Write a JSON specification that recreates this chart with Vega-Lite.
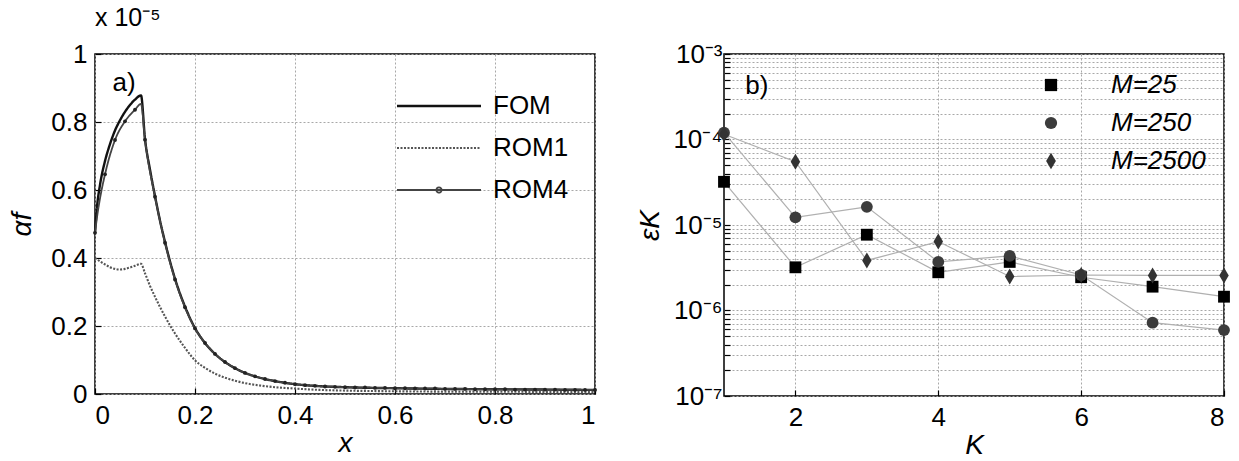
{
  "$schema": "https://vega.github.io/schema/vega-lite/v6.json",
  "padding": {"left": 8, "top": 5, "right": 0, "bottom": 0},
  "background": "#ffffff",
  "bounds": "flush",
  "spacing": 129,
  "config": {
    "font": "Liberation Sans",
    "view": {"stroke": "#000000", "strokeWidth": 1.5},
    "axis": {
      "domain": false,
      "tickColor": "#000000",
      "tickSize": -6,
      "tickWidth": 1.2,
      "labelFontSize": 26,
      "labelColor": "#000000",
      "labelFont": "Liberation Sans",
      "grid": true,
      "gridColor": "#a8a8a8",
      "gridDash": [2, 2],
      "gridWidth": 1,
      "titleFontSize": 28,
      "titleFontStyle": "italic",
      "titleFontWeight": "normal",
      "titleColor": "#000000",
      "titleFont": "Liberation Sans"
    },
    "legend": {"labelFont": "Liberation Sans", "labelColor": "#000000", "labelFontSize": 26}
  },
  "datasets": {
    "left": [
      {"s": "FOM", "x": 0, "y": 0.474}, {"s": "FOM", "x": 0.004, "y": 0.55}, {"s": "FOM", "x": 0.01, "y": 0.615},
      {"s": "FOM", "x": 0.02, "y": 0.685}, {"s": "FOM", "x": 0.03, "y": 0.735}, {"s": "FOM", "x": 0.04, "y": 0.775},
      {"s": "FOM", "x": 0.05, "y": 0.805}, {"s": "FOM", "x": 0.06, "y": 0.83}, {"s": "FOM", "x": 0.07, "y": 0.85},
      {"s": "FOM", "x": 0.08, "y": 0.866}, {"s": "FOM", "x": 0.092, "y": 0.878}, {"s": "FOM", "x": 0.1, "y": 0.75},
      {"s": "FOM", "x": 0.11, "y": 0.66}, {"s": "FOM", "x": 0.12, "y": 0.582}, {"s": "FOM", "x": 0.13, "y": 0.51},
      {"s": "FOM", "x": 0.14, "y": 0.447}, {"s": "FOM", "x": 0.15, "y": 0.39}, {"s": "FOM", "x": 0.16, "y": 0.339},
      {"s": "FOM", "x": 0.17, "y": 0.295}, {"s": "FOM", "x": 0.18, "y": 0.257}, {"s": "FOM", "x": 0.19, "y": 0.223},
      {"s": "FOM", "x": 0.2, "y": 0.194}, {"s": "FOM", "x": 0.22, "y": 0.15}, {"s": "FOM", "x": 0.24, "y": 0.118},
      {"s": "FOM", "x": 0.26, "y": 0.094}, {"s": "FOM", "x": 0.28, "y": 0.076}, {"s": "FOM", "x": 0.3, "y": 0.062},
      {"s": "FOM", "x": 0.32, "y": 0.052}, {"s": "FOM", "x": 0.34, "y": 0.044}, {"s": "FOM", "x": 0.36, "y": 0.038},
      {"s": "FOM", "x": 0.38, "y": 0.033}, {"s": "FOM", "x": 0.4, "y": 0.029}, {"s": "FOM", "x": 0.45, "y": 0.023},
      {"s": "FOM", "x": 0.5, "y": 0.02}, {"s": "FOM", "x": 0.6, "y": 0.017}, {"s": "FOM", "x": 0.7, "y": 0.015},
      {"s": "FOM", "x": 0.8, "y": 0.014}, {"s": "FOM", "x": 0.9, "y": 0.013}, {"s": "FOM", "x": 1.0, "y": 0.012},

      {"s": "ROM1", "x": 0, "y": 0.4}, {"s": "ROM1", "x": 0.01, "y": 0.39}, {"s": "ROM1", "x": 0.02, "y": 0.381},
      {"s": "ROM1", "x": 0.03, "y": 0.373}, {"s": "ROM1", "x": 0.04, "y": 0.368}, {"s": "ROM1", "x": 0.05, "y": 0.366},
      {"s": "ROM1", "x": 0.06, "y": 0.368}, {"s": "ROM1", "x": 0.07, "y": 0.372}, {"s": "ROM1", "x": 0.08, "y": 0.377},
      {"s": "ROM1", "x": 0.092, "y": 0.383}, {"s": "ROM1", "x": 0.1, "y": 0.355}, {"s": "ROM1", "x": 0.11, "y": 0.318},
      {"s": "ROM1", "x": 0.12, "y": 0.286}, {"s": "ROM1", "x": 0.13, "y": 0.256}, {"s": "ROM1", "x": 0.14, "y": 0.228},
      {"s": "ROM1", "x": 0.15, "y": 0.202}, {"s": "ROM1", "x": 0.16, "y": 0.178}, {"s": "ROM1", "x": 0.17, "y": 0.156},
      {"s": "ROM1", "x": 0.18, "y": 0.136}, {"s": "ROM1", "x": 0.19, "y": 0.116}, {"s": "ROM1", "x": 0.2, "y": 0.099},
      {"s": "ROM1", "x": 0.22, "y": 0.077}, {"s": "ROM1", "x": 0.24, "y": 0.06}, {"s": "ROM1", "x": 0.26, "y": 0.048},
      {"s": "ROM1", "x": 0.28, "y": 0.039}, {"s": "ROM1", "x": 0.3, "y": 0.032}, {"s": "ROM1", "x": 0.33, "y": 0.025},
      {"s": "ROM1", "x": 0.36, "y": 0.02}, {"s": "ROM1", "x": 0.4, "y": 0.016}, {"s": "ROM1", "x": 0.45, "y": 0.012},
      {"s": "ROM1", "x": 0.5, "y": 0.01}, {"s": "ROM1", "x": 0.6, "y": 0.008}, {"s": "ROM1", "x": 0.7, "y": 0.007},
      {"s": "ROM1", "x": 0.8, "y": 0.007}, {"s": "ROM1", "x": 0.9, "y": 0.006}, {"s": "ROM1", "x": 1.0, "y": 0.006},

      {"s": "ROM4", "x": 0, "y": 0.474}, {"s": "ROM4", "x": 0.005, "y": 0.53}, {"s": "ROM4", "x": 0.01, "y": 0.575},
      {"s": "ROM4", "x": 0.02, "y": 0.646}, {"s": "ROM4", "x": 0.04, "y": 0.747}, {"s": "ROM4", "x": 0.06, "y": 0.802},
      {"s": "ROM4", "x": 0.08, "y": 0.836}, {"s": "ROM4", "x": 0.092, "y": 0.853}, {"s": "ROM4", "x": 0.1, "y": 0.748},
      {"s": "ROM4", "x": 0.12, "y": 0.58}, {"s": "ROM4", "x": 0.14, "y": 0.445}, {"s": "ROM4", "x": 0.16, "y": 0.337},
      {"s": "ROM4", "x": 0.18, "y": 0.255}, {"s": "ROM4", "x": 0.2, "y": 0.193}, {"s": "ROM4", "x": 0.22, "y": 0.15},
      {"s": "ROM4", "x": 0.24, "y": 0.118}, {"s": "ROM4", "x": 0.26, "y": 0.094}, {"s": "ROM4", "x": 0.28, "y": 0.076},
      {"s": "ROM4", "x": 0.3, "y": 0.062}, {"s": "ROM4", "x": 0.32, "y": 0.052}, {"s": "ROM4", "x": 0.34, "y": 0.044},
      {"s": "ROM4", "x": 0.36, "y": 0.038}, {"s": "ROM4", "x": 0.38, "y": 0.033}, {"s": "ROM4", "x": 0.4, "y": 0.029},
      {"s": "ROM4", "x": 0.42, "y": 0.026}, {"s": "ROM4", "x": 0.44, "y": 0.024}, {"s": "ROM4", "x": 0.46, "y": 0.022},
      {"s": "ROM4", "x": 0.48, "y": 0.021}, {"s": "ROM4", "x": 0.5, "y": 0.02}, {"s": "ROM4", "x": 0.52, "y": 0.019},
      {"s": "ROM4", "x": 0.54, "y": 0.019}, {"s": "ROM4", "x": 0.56, "y": 0.018}, {"s": "ROM4", "x": 0.58, "y": 0.018},
      {"s": "ROM4", "x": 0.6, "y": 0.017}, {"s": "ROM4", "x": 0.62, "y": 0.017}, {"s": "ROM4", "x": 0.64, "y": 0.016},
      {"s": "ROM4", "x": 0.66, "y": 0.016}, {"s": "ROM4", "x": 0.68, "y": 0.016}, {"s": "ROM4", "x": 0.7, "y": 0.015},
      {"s": "ROM4", "x": 0.72, "y": 0.015}, {"s": "ROM4", "x": 0.74, "y": 0.015}, {"s": "ROM4", "x": 0.76, "y": 0.014},
      {"s": "ROM4", "x": 0.78, "y": 0.014}, {"s": "ROM4", "x": 0.8, "y": 0.014}, {"s": "ROM4", "x": 0.82, "y": 0.014},
      {"s": "ROM4", "x": 0.84, "y": 0.013}, {"s": "ROM4", "x": 0.86, "y": 0.013}, {"s": "ROM4", "x": 0.88, "y": 0.013},
      {"s": "ROM4", "x": 0.9, "y": 0.013}, {"s": "ROM4", "x": 0.92, "y": 0.013}, {"s": "ROM4", "x": 0.94, "y": 0.012},
      {"s": "ROM4", "x": 0.96, "y": 0.012}, {"s": "ROM4", "x": 0.98, "y": 0.012}, {"s": "ROM4", "x": 1.0, "y": 0.012}
    ],
    "right": [
      {"M": "M=25", "K": 1, "e": 3.2e-5}, {"M": "M=25", "K": 2, "e": 3.2e-6}, {"M": "M=25", "K": 3, "e": 7.7e-6},
      {"M": "M=25", "K": 4, "e": 2.8e-6}, {"M": "M=25", "K": 5, "e": 3.7e-6}, {"M": "M=25", "K": 6, "e": 2.45e-6},
      {"M": "M=25", "K": 7, "e": 1.9e-6}, {"M": "M=25", "K": 8, "e": 1.45e-6},
      {"M": "M=250", "K": 1, "e": 1.2e-4}, {"M": "M=250", "K": 2, "e": 1.23e-5}, {"M": "M=250", "K": 3, "e": 1.63e-5},
      {"M": "M=250", "K": 4, "e": 3.7e-6}, {"M": "M=250", "K": 5, "e": 4.35e-6}, {"M": "M=250", "K": 6, "e": 2.6e-6},
      {"M": "M=250", "K": 7, "e": 7.2e-7}, {"M": "M=250", "K": 8, "e": 5.9e-7},
      {"M": "M=2500", "K": 1, "e": 1.15e-4}, {"M": "M=2500", "K": 2, "e": 5.5e-5}, {"M": "M=2500", "K": 3, "e": 3.85e-6},
      {"M": "M=2500", "K": 4, "e": 6.4e-6}, {"M": "M=2500", "K": 5, "e": 2.5e-6}, {"M": "M=2500", "K": 6, "e": 2.6e-6},
      {"M": "M=2500", "K": 7, "e": 2.57e-6}, {"M": "M=2500", "K": 8, "e": 2.57e-6}
    ]
  },
  "hconcat": [
    {
      "width": 500,
      "height": 340,
      "title": {"text": "x 10⁻⁵", "anchor": "start", "frame": "group", "fontSize": 25, "fontWeight": "normal", "font": "Liberation Sans", "color": "#000000", "offset": 10},
      "layer": [
        {
          "data": {"name": "left"},
          "mark": {"type": "line", "interpolate": "monotone"},
          "encoding": {
            "x": {"field": "x", "type": "quantitative", "scale": {"domain": [0, 1], "nice": false},
                  "axis": {"values": [0, 0.2, 0.4, 0.6, 0.8, 1], "format": "~g", "title": "x", "labelPadding": 14, "titlePadding": 1}},
            "y": {"field": "y", "type": "quantitative", "scale": {"domain": [0, 1], "nice": false},
                  "axis": {"values": [0, 0.2, 0.4, 0.6, 0.8, 1], "format": "~g", "title": "αf", "labelPadding": 14, "titlePadding": 14}},
            "color": {"field": "s", "type": "nominal",
                      "scale": {"domain": ["FOM", "ROM1", "ROM4"], "range": ["#111111", "#555555", "#444444"]},
                      "legend": {"orient": "top-right", "offset": 26, "title": " ", "titleFontSize": 2, "titlePadding": 11,
                                 "symbolType": "M-4,0L4,0", "symbolSize": 441, "labelOffset": 41, "rowPadding": 16,
                                 "encode": {"symbols": {"update": {"shape": {"signal": "datum.value === 'ROM4' ? 'M-4,0L4,0M0.25,0A0.25,0.25,0,1,1,-0.25,0A0.25,0.25,0,1,1,0.25,0' : 'M-4,0L4,0'"}}}}}},
            "strokeDash": {"field": "s", "type": "nominal", "title": " ",
                      "scale": {"domain": ["FOM", "ROM1", "ROM4"], "range": [[1, 0], [2, 1.5], [1, 0]]}},
            "strokeWidth": {"field": "s", "type": "nominal", "title": " ",
                      "scale": {"domain": ["FOM", "ROM1", "ROM4"], "range": [2.4, 1.8, 1.6]}}
          }
        },
        {
          "data": {"name": "left"},
          "transform": [{"filter": "datum.s === 'ROM4' && abs(datum.x * 50 - round(datum.x * 50)) < 0.000001"}],
          "mark": {"type": "point", "filled": true, "size": 15, "color": "#222222", "opacity": 1},
          "encoding": {
            "x": {"field": "x", "type": "quantitative"},
            "y": {"field": "y", "type": "quantitative"}
          }
        },
        {
          "data": {"values": [{"label": "a)", "x": 0.058, "y": 0.916}]},
          "mark": {"type": "text", "fontSize": 26, "font": "Liberation Sans", "color": "#000000"},
          "encoding": {
            "x": {"field": "x", "type": "quantitative"},
            "y": {"field": "y", "type": "quantitative"},
            "text": {"field": "label"}
          }
        }
      ]
    },
    {
      "width": 500,
      "height": 342,
      "layer": [
        {
          "data": {"name": "right"},
          "mark": {"type": "line", "color": "#b0b0b0", "strokeWidth": 1.2},
          "encoding": {
            "x": {"field": "K", "type": "quantitative", "scale": {"domain": [1, 8], "nice": false},
                  "axis": {"values": [2, 4, 6, 8], "format": "d", "title": "K", "labelPadding": 14, "titlePadding": 1}},
            "y": {"field": "e", "type": "quantitative", "scale": {"type": "log", "domain": [1e-7, 0.001], "nice": false},
                  "axis": {
                    "values": [1e-7, 2e-7, 3e-7, 4e-7, 5e-7, 6e-7, 7e-7, 8e-7, 9e-7,
                               1e-6, 2e-6, 3e-6, 4e-6, 5e-6, 6e-6, 7e-6, 8e-6, 9e-6,
                               1e-5, 2e-5, 3e-5, 4e-5, 5e-5, 6e-5, 7e-5, 8e-5, 9e-5,
                               0.0001, 0.0002, 0.0003, 0.0004, 0.0005, 0.0006, 0.0007, 0.0008, 0.0009, 0.001],
                    "labelExpr": "abs(log(datum.value)/LN10 - round(log(datum.value)/LN10)) > 0.001 ? '' : (round(log(datum.value)/LN10) == -3 ? '10⁻³' : round(log(datum.value)/LN10) == -4 ? '10⁻⁴' : round(log(datum.value)/LN10) == -5 ? '10⁻⁵' : round(log(datum.value)/LN10) == -6 ? '10⁻⁶' : '10⁻⁷')",
                    "title": "εK", "labelPadding": 8, "titlePadding": 8
                  }},
            "detail": {"field": "M", "type": "nominal"}
          }
        },
        {
          "data": {"name": "right"},
          "mark": {"type": "point", "filled": true, "opacity": 1, "size": 140},
          "encoding": {
            "x": {"field": "K", "type": "quantitative"},
            "y": {"field": "e", "type": "quantitative"},
            "shape": {"field": "M", "type": "nominal", "title": null,
                      "scale": {"domain": ["M=25", "M=250", "M=2500"], "range": ["square", "circle", "M0,-1.35L0.8,0L0,1.35L-0.8,0Z"]},
                      "legend": {"orient": "top-right", "offset": 18, "labelFontStyle": "italic", "symbolSize": 150, "labelOffset": 47, "rowPadding": 12, "symbolOpacity": 1}},
            "color": {"field": "M", "type": "nominal", "title": null,
                      "scale": {"domain": ["M=25", "M=250", "M=2500"], "range": ["#000000", "#3c3c3c", "#333333"]}}
          }
        },
        {
          "data": {"values": [{"label": "b)", "K": 1.46, "e": 0.00042}]},
          "mark": {"type": "text", "fontSize": 26, "font": "Liberation Sans", "color": "#000000"},
          "encoding": {
            "x": {"field": "K", "type": "quantitative"},
            "y": {"field": "e", "type": "quantitative"},
            "text": {"field": "label"}
          }
        }
      ]
    }
  ],
  "resolve": {"scale": {"color": "independent", "shape": "independent", "strokeDash": "independent", "strokeWidth": "independent", "x": "independent", "y": "independent"}, "legend": {"color": "independent", "shape": "independent", "strokeDash": "independent", "strokeWidth": "independent"}}
}
